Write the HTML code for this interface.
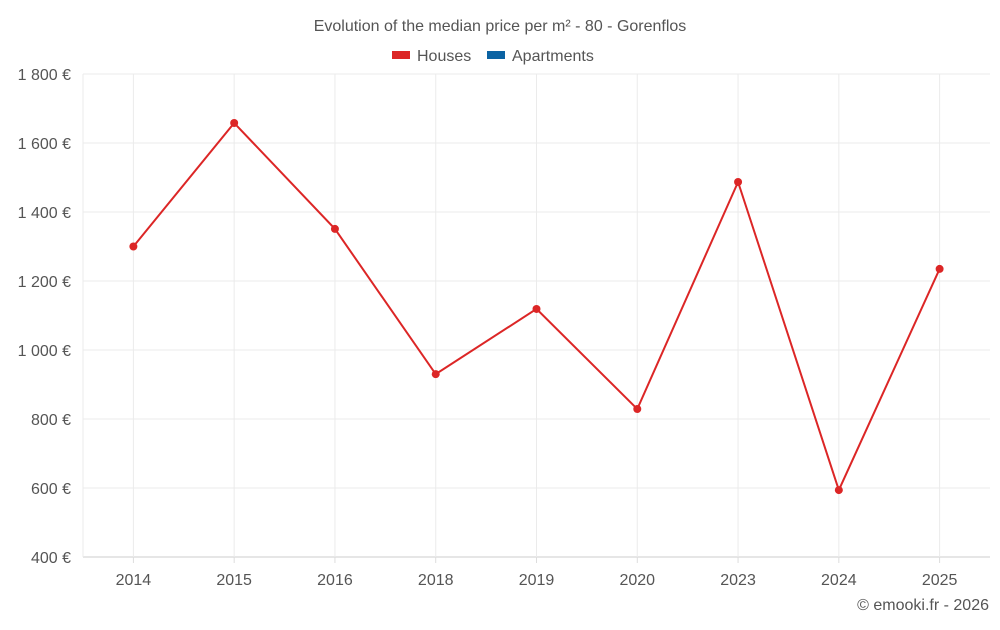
<!DOCTYPE html>
<html><head><meta charset="utf-8"><style>
body{margin:0;background:#fff;font-family:"Liberation Sans",sans-serif;}
svg text{font-family:"Liberation Sans",sans-serif;fill:#555;}
</style></head><body>
<svg id="chart" width="1000" height="625" viewBox="0 0 1000 625">
<text x="500" y="31" text-anchor="middle" font-size="16">Evolution of the median price per m² - 80 - Gorenflos</text>
<g>
<rect x="392" y="51" width="18" height="8" fill="#dc2626"/>
<text x="417" y="61" font-size="16">Houses</text>
<rect x="487" y="51" width="18" height="8" fill="#0b63a3"/>
<text x="512" y="61" font-size="16">Apartments</text>
</g>
<g id="grid"></g><g id="axes"></g><g id="series"></g>
<text x="989" y="610" text-anchor="end" font-size="16">© emooki.fr - 2026</text>
</svg>
<script>
const categories=["2014","2015","2016","2018","2019","2020","2023","2024","2025"];
const houses=[1300,1658,1351,930,1119,829,1487,594,1235];
const yTicks=[400,600,800,1000,1200,1400,1600,1800];
const yTickLabels=["400 €","600 €","800 €","1 000 €","1 200 €","1 400 €","1 600 €","1 800 €"];
const NS="http://www.w3.org/2000/svg";
const L=83,R=990,T=74,B=557,yMin=400,yMax=1800;
const bw=(R-L)/categories.length;
const x=i=>L+bw*(i+0.5);
const y=v=>B-(v-yMin)/(yMax-yMin)*(B-T);
function mk(tag,attrs,parent){const e=document.createElementNS(NS,tag);for(const k in attrs)e.setAttribute(k,attrs[k]);document.getElementById(parent).appendChild(e);return e;}
yTicks.forEach((t,i)=>{
 const g=mk("line",{x1:L,x2:R,y1:y(t),y2:y(t),stroke:i==0?"#ccc":"#ebebeb","stroke-width":1},"grid");
 
 
 const tx=mk("text",{x:71,y:y(t)+6,"text-anchor":"end","font-size":16},"axes");
 tx.textContent=yTickLabels[i];
 
 
});
const lg=mk("line",{x1:L,x2:L,y1:T,y2:B,stroke:"#ebebeb","stroke-width":1},"grid");


categories.forEach((c,i)=>{
 const g=mk("line",{x1:x(i),x2:x(i),y1:T,y2:B,stroke:"#ebebeb","stroke-width":1},"grid");
 
 
 const tk=mk("line",{x1:x(i),x2:x(i),y1:B,y2:B+6,stroke:"#ddd"},"axes");
 
 
 const tx=mk("text",{x:x(i),y:585,"text-anchor":"middle","font-size":16},"axes");
 tx.textContent=c;
 
 
});
const ln=mk("polyline",{points:houses.map((v,i)=>x(i)+","+y(v)).join(" "),fill:"none",stroke:"#dc2626","stroke-width":2},"series");


houses.forEach((v,i)=>{
 const c=mk("circle",{cx:x(i),cy:y(v),r:4,fill:"#dc2626"},"series");
 
 
});
</script>
</body></html>
